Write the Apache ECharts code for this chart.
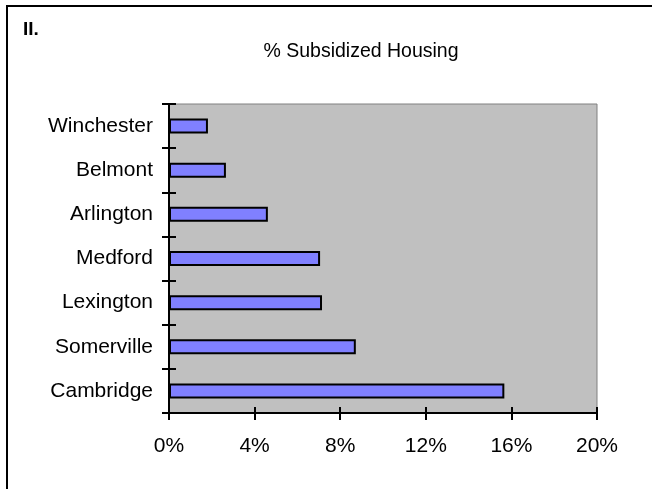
<!DOCTYPE html>
<html>
<head>
<meta charset="utf-8">
<script src="https://cdn.jsdelivr.net/npm/echarts@6/dist/echarts.min.js"></script>
<style>
  html, body { margin: 0; padding: 0; background: #fff; }
  #chart { width: 652px; height: 489px; }
</style>
</head>
<body>
<div id="chart"></div>
<script>
// towns, bottom to top (category axis draws first item at the bottom)
var towns = ["Cambridge", "Somerville", "Lexington", "Medford", "Arlington", "Belmont", "Winchester"];
// share of subsidized housing, in percent
var subsidized = [15.67, 8.73, 7.15, 7.06, 4.62, 2.66, 1.82];
var pctTicks = [0, 4, 8, 12, 16, 20];

var myChart = echarts.init(document.getElementById("chart"));
var font = "Liberation Sans, Arial, sans-serif";

var option = {
  backgroundColor: "#fff",
  animation: false,
  title: {
    text: "% Subsidized Housing",
    left: 356,
    top: 37,
    textAlign: "center",
    textStyle: { fontFamily: font, fontSize: 19.5, fontWeight: "normal", color: "#000" }
  },
  graphic: [
    // frame lines of the page
    { type: "line", shape: { x1: 6, y1: 6, x2: 652, y2: 6 }, style: { stroke: "#000", lineWidth: 2 } },
    { type: "line", shape: { x1: 7, y1: 5, x2: 7, y2: 489 }, style: { stroke: "#000", lineWidth: 2 } },
    {
      type: "text", left: 23, top: 20,
      style: { text: "II.", font: "bold 19px " + font, fill: "#000" }
    }
  ],
  grid: {
    left: 169,
    right: 55,
    top: 104,
    bottom: 76,
    show: true,
    backgroundColor: "#C0C0C0",
    borderColor: "#808080",
    borderWidth: 1
  },
  xAxis: [
    {
      type: "value",
      min: pctTicks[0],
      max: pctTicks[pctTicks.length - 1],
      interval: 4,
      axisLine: { show: true, lineStyle: { color: "#000", width: 2 } },
      axisTick: { show: true, length: 7, lineStyle: { color: "#000", width: 2 } },
      axisLabel: {
        margin: 23,
        fontFamily: font, fontSize: 21, color: "#000",
        formatter: function (v) { return v + "%"; }
      },
      splitLine: { show: false }
    },
    {
      type: "value",
      position: "bottom",
      min: pctTicks[0],
      max: pctTicks[pctTicks.length - 1],
      interval: 4,
      axisLine: { show: false },
      axisTick: { show: true, inside: true, length: 6, lineStyle: { color: "#000", width: 2 } },
      axisLabel: { show: false },
      splitLine: { show: false }
    }
  ],
  yAxis: [
    {
      type: "category",
      data: towns,
      axisLine: { show: true, lineStyle: { color: "#000", width: 2 } },
      axisTick: { show: true, length: 7, lineStyle: { color: "#000", width: 2 } },
      axisLabel: { margin: 16, fontFamily: font, fontSize: 21, color: "#000" }
    },
    {
      type: "category",
      data: towns,
      position: "left",
      axisLine: { show: false },
      axisTick: { show: true, inside: true, length: 7, lineStyle: { color: "#000", width: 2 } },
      axisLabel: { show: false }
    }
  ],
  series: [
    {
      type: "bar",
      data: subsidized,
      barWidth: 15,
      itemStyle: { color: "#8080FF", borderColor: "#000", borderWidth: 2 }
    }
  ]
};

myChart.setOption(option);
</script>
</body>
</html>
